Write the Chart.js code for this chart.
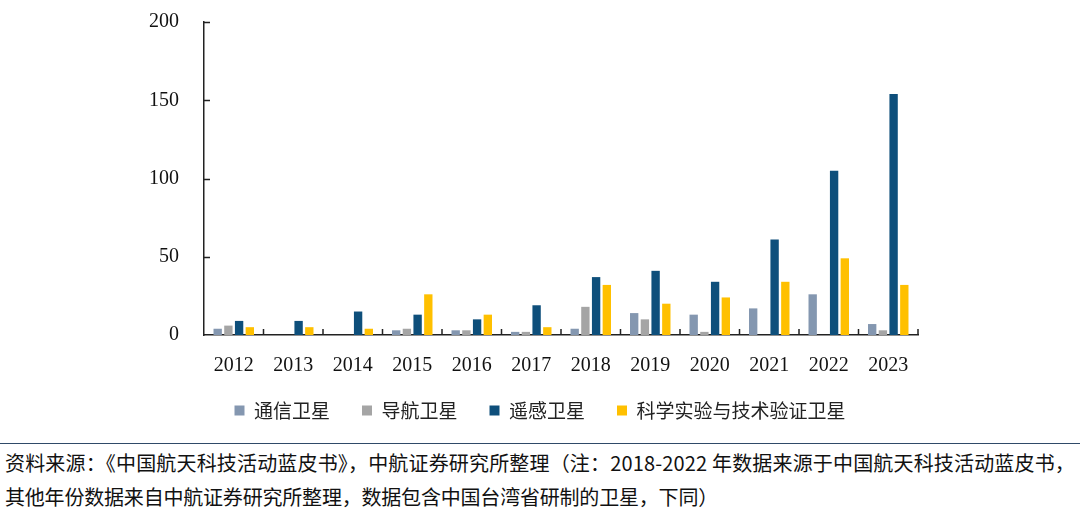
<!DOCTYPE html>
<html><head><meta charset="utf-8">
<script src="https://cdn.jsdelivr.net/npm/chart.js@4.4.1/dist/chart.umd.min.js"></script>
<style>
html,body{margin:0;padding:0;background:#fff;}
body{width:1080px;height:512px;overflow:hidden;position:relative;}
#wrap{position:absolute;left:0;top:0;width:1080px;height:441px;}
#rule{position:absolute;left:0;top:443px;width:1080px;height:1px;background:#2f4a68;}
.note{position:absolute;left:5px;font-family:"Noto Sans CJK SC";font-size:20px;line-height:24px;white-space:nowrap;color:#111;}
</style></head>
<body>
<div id="wrap"><canvas id="c"></canvas></div>
<div id="rule"></div>
<div class="note" id="n1" style="top:451px">资料来源：《中国航天科技活动蓝皮书》，中航证券研究所整理（注：2018-2022 年数据来源于中国航天科技活动蓝皮书，</div>
<div class="note" id="n2" style="top:485px">其他年份数据来自中航证券研究所整理，数据包含中国台湾省研制的卫星，下同）</div>
<script>
const categories = ["2012","2013","2014","2015","2016","2017","2018","2019","2020","2021","2022","2023"];
const seriesNames = ["通信卫星","导航卫星","遥感卫星","科学实验与技术验证卫星"];
const commSat   = [4, 0, 0, 3, 3, 2, 4, 14, 13, 17, 26, 7];
const navSat    = [6, 0, 0, 4, 3, 2, 18, 10, 2, 0, 0, 3];
const remoteSat = [9, 9, 15, 13, 10, 19, 37, 41, 34, 61, 105, 154];
const sciSat    = [5, 5, 4, 26, 13, 5, 32, 20, 24, 34, 49, 32];
const yTicks = [0, 50, 100, 150, 200];
const colors = ["#8497b0", "#a5a5a5", "#0e4f7b", "#ffc000"];

function fit(id, target){
  const el = document.getElementById(id);
  const n = el.textContent.length;
  const w = el.getBoundingClientRect().width;
  el.style.letterSpacing = ((target - w) / n) + "px";
}
fit("n1", 1070);
fit("n2", 713);

const innerTicks = {
  id: "innerTicks",
  afterLayout(chart){
    const lg = chart.legend;
    if (lg) { lg.top -= 11; lg.bottom -= 11; }
  },
  afterDatasetsDraw(chart){
    const ctx = chart.ctx, x = chart.scales.x, y = chart.scales.y;
    ctx.save();
    ctx.strokeStyle = "#222";
    ctx.lineWidth = 1.5;
    ctx.beginPath();
    yTicks.forEach(v => {
      if (v === 0) return;
      const py = Math.round(y.getPixelForValue(v)) + 0.5;
      ctx.moveTo(x.left, py); ctx.lineTo(x.left + 6, py);
    });
    for (let i = 1; i <= categories.length; i++) {
      const px = i < categories.length
        ? (x.getPixelForTick(i - 1) + x.getPixelForTick(i)) / 2
        : x.right;
      ctx.moveTo(px, y.bottom); ctx.lineTo(px, y.bottom - 6);
    }
    ctx.stroke();
    ctx.restore();
  }
};

new Chart(document.getElementById("c"), {
  type: "bar",
  data: {
    labels: categories,
    datasets: [commSat, navSat, remoteSat, sciSat].map((d, i) => ({
      label: seriesNames[i],
      data: d,
      backgroundColor: colors[i],
      borderWidth: 0,
      categoryPercentage: 0.72,
      barPercentage: 0.78
    }))
  },
  options: {
    responsive: true,
    maintainAspectRatio: false,
    animation: false,
    layout: { padding: { top: 22, left: 0, right: 0, bottom: 0 } },
    plugins: {
      legend: {
        position: "bottom",
        labels: {
          boxWidth: 10, boxHeight: 10, padding: 32,
          color: "#222",
          font: { family: "Noto Sans CJK SC", size: 19 }
        }
      },
      tooltip: { enabled: false }
    },
    scales: {
      x: {
        grid: { display: false, drawTicks: true, tickLength: 17, tickColor: "rgba(0,0,0,0)" },
        border: { display: true, color: "#222", width: 1.5 },
        ticks: { color: "#111", padding: 2, font: { family: "Liberation Serif", size: 20 } }
      },
      y: {
        min: 0, max: 200,
        afterBuildTicks(s){ s.ticks = yTicks.map(v => ({ value: v })); },
        grid: { display: false, drawTicks: true, tickLength: 23, tickColor: "rgba(0,0,0,0)" },
        border: { display: true, color: "#222", width: 1.5 },
        ticks: { color: "#111", padding: 2, font: { family: "Liberation Serif", size: 20 } },
        afterFit(s){ s.width = 204; }
      },
      y2: {
        position: "right",
        display: true,
        grid: { display: false, drawTicks: false },
        border: { display: false },
        ticks: { display: false },
        afterFit(s){ s.width = 162; }
      }
    }
  },
  plugins: [innerTicks]
});
</script>
</body></html>
